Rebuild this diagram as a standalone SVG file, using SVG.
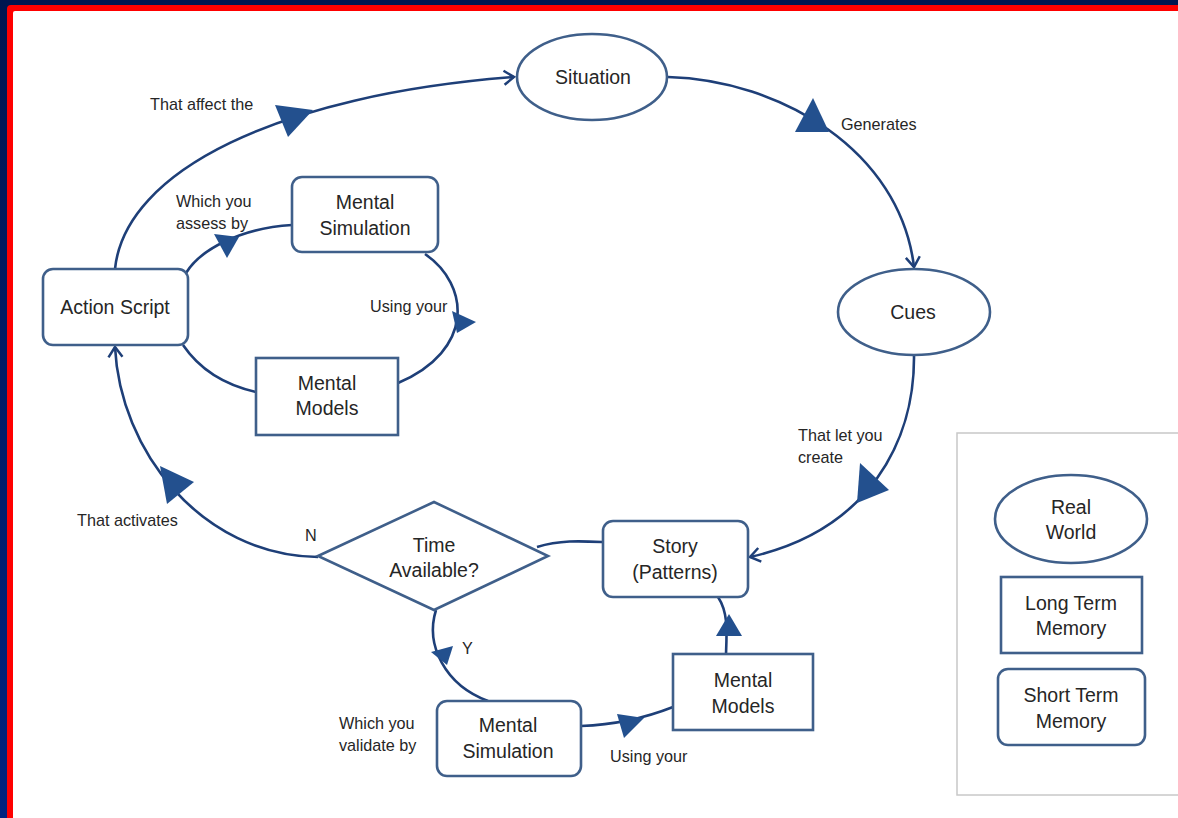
<svg xmlns="http://www.w3.org/2000/svg" width="1178" height="818" viewBox="0 0 1178 818">
<defs>
<linearGradient id="navy" x1="0" y1="0" x2="0" y2="1">
<stop offset="0" stop-color="#001650"/>
<stop offset="1" stop-color="#00237f"/>
</linearGradient>
<marker id="chev" markerUnits="userSpaceOnUse" markerWidth="24" markerHeight="24" viewBox="-12 -12 24 24" refX="0" refY="0" orient="auto">
<path d="M-10,-7 L0,0 L-10,7" fill="none" stroke="#1e3f78" stroke-width="2.5" stroke-linejoin="miter"/>
</marker>
<style>
.node{fill:#fff;stroke:#3f5f8a;stroke-width:2.6}
.lbl{font-family:"Liberation Sans",Arial,sans-serif;font-size:19.5px;fill:#262626;text-anchor:middle}
.sm{font-family:"Liberation Sans",Arial,sans-serif;font-size:16.2px;fill:#262626}
.con{fill:none;stroke:#1e3f78;stroke-width:2.6}
.tri{fill:#23508e}
</style>
</defs>
<rect width="1178" height="818" fill="url(#navy)"/>
<rect x="7" y="5" width="1200" height="900" rx="4" fill="#ff0000"/>
<rect x="13" y="11" width="1200" height="900" rx="2" fill="#ffffff"/>

<g id="legend-frame">
<rect x="957" y="433" width="240" height="362" fill="none" stroke="#c8c8c8" stroke-width="1.5"/>
</g>

<g id="connectors">
<path class="con" d="M115,269 C125,170 280,95 514,77" marker-end="url(#chev)"/>
<polygon class="tri" points="275,105 313,110 288,137"/>
<path class="con" d="M668,77 C780,80 900,150 914,267" marker-end="url(#chev)"/>
<polygon class="tri" points="813,98 795,132 829,132"/>
<path class="con" d="M914,355 C915,440 870,530 750,557" marker-end="url(#chev)"/>
<polygon class="tri" points="860,463 889,490 857,503"/>
<path class="con" d="M537,547 C560,540 580,541 603,542"/>
<path class="con" d="M318,557 C200,555 120,450 115,347" marker-end="url(#chev)"/>
<polygon class="tri" points="160,466 194,482 167,504"/>
<path class="con" d="M436,610 C425,645 445,685 488,701"/>
<polygon class="tri" points="431,652 453,646 447,665"/>
<path class="con" d="M581,726 C610,725 640,720 673,707"/>
<polygon class="tri" points="617,714 644,718 624,738"/>
<path class="con" d="M726,654 C727,630 728,612 718,597"/>
<polygon class="tri" points="729,614 716,636 742,636"/>
<path class="con" d="M186,273 C200,250 240,228 292,225"/>
<polygon class="tri" points="214,234 239,237 227,258"/>
<path class="con" d="M425,254 C470,285 475,350 398,383"/>
<polygon class="tri" points="452,311 476,322 457,333"/>
<path class="con" d="M183,345 C200,370 225,385 256,392"/>
</g>

<g id="situation">
<ellipse class="node" cx="592" cy="77" rx="75" ry="43"/>
<text class="lbl" x="593" y="84">Situation</text>
</g>
<g id="cues">
<ellipse class="node" cx="914" cy="312" rx="76" ry="43"/>
<text class="lbl" x="913" y="319">Cues</text>
</g>
<g id="action-script">
<rect class="node" x="43" y="269" width="145" height="76" rx="10"/>
<text class="lbl" x="115" y="314">Action Script</text>
</g>
<g id="mental-simulation-top">
<rect class="node" x="292" y="177" width="146" height="75" rx="10"/>
<text class="lbl" x="365" y="209">Mental</text>
<text class="lbl" x="365" y="235">Simulation</text>
</g>
<g id="mental-models-top">
<rect class="node" x="256" y="358" width="142" height="77"/>
<text class="lbl" x="327" y="390">Mental</text>
<text class="lbl" x="327" y="415">Models</text>
</g>
<g id="time-available">
<polygon class="node" points="318,556 434,502 548,556 434,610"/>
<text class="lbl" x="434" y="552">Time</text>
<text class="lbl" x="434" y="577">Available?</text>
</g>
<g id="story">
<rect class="node" x="603" y="521" width="145" height="76" rx="10"/>
<text class="lbl" x="675" y="553">Story</text>
<text class="lbl" x="675" y="579">(Patterns)</text>
</g>
<g id="mental-models-bottom">
<rect class="node" x="673" y="654" width="140" height="76"/>
<text class="lbl" x="743" y="687">Mental</text>
<text class="lbl" x="743" y="713">Models</text>
</g>
<g id="mental-simulation-bottom">
<rect class="node" x="437" y="701" width="144" height="75" rx="10"/>
<text class="lbl" x="508" y="732">Mental</text>
<text class="lbl" x="508" y="758">Simulation</text>
</g>

<g id="legend-real-world">
<ellipse class="node" cx="1071" cy="519" rx="76" ry="44"/>
<text class="lbl" x="1071" y="514">Real</text>
<text class="lbl" x="1071" y="539">World</text>
</g>
<g id="legend-long-term">
<rect class="node" x="1001" y="577" width="141" height="76"/>
<text class="lbl" x="1071" y="610">Long Term</text>
<text class="lbl" x="1071" y="635">Memory</text>
</g>
<g id="legend-short-term">
<rect class="node" x="998" y="669" width="147" height="76" rx="10"/>
<text class="lbl" x="1071" y="702">Short Term</text>
<text class="lbl" x="1071" y="728">Memory</text>
</g>

<g id="labels">
<text class="sm" x="150" y="110">That affect the</text>
<text class="sm" x="176" y="207">Which you</text>
<text class="sm" x="176" y="229">assess by</text>
<text class="sm" x="370" y="312">Using your</text>
<text class="sm" x="841" y="130">Generates</text>
<text class="sm" x="798" y="441">That let you</text>
<text class="sm" x="798" y="463">create</text>
<text class="sm" x="77" y="526">That activates</text>
<text class="sm" x="305" y="541">N</text>
<text class="sm" x="462" y="654">Y</text>
<text class="sm" x="339" y="729">Which you</text>
<text class="sm" x="339" y="751">validate by</text>
<text class="sm" x="610" y="762">Using your</text>
</g>
</svg>
